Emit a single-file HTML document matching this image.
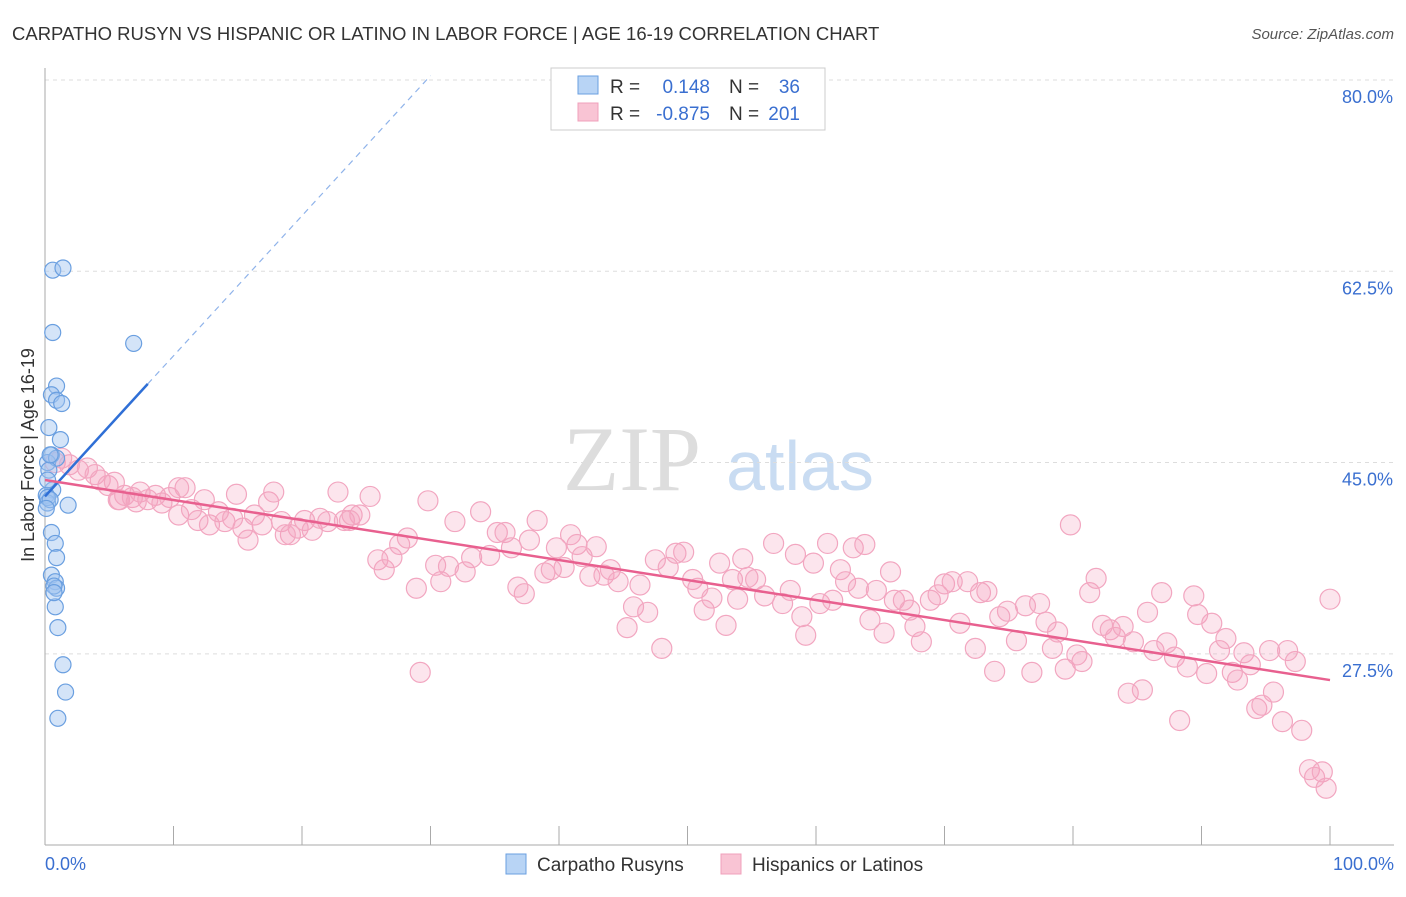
<!DOCTYPE html>
<html><head><meta charset="utf-8"><style>
body{margin:0;background:#fff;font-family:"Liberation Sans",sans-serif}
</style></head><body>
<svg width="1406" height="892" xmlns="http://www.w3.org/2000/svg" font-family="Liberation Sans, sans-serif">
<text x="12" y="40" font-size="18.5" fill="#333">CARPATHO RUSYN VS HISPANIC OR LATINO IN LABOR FORCE | AGE 16-19 CORRELATION CHART</text>
<text x="1394" y="39" font-size="15" fill="#555" font-style="italic" text-anchor="end">Source: ZipAtlas.com</text>
<g><text x="632" y="490" font-size="92" fill="#ddd" font-family="Liberation Serif, serif" text-anchor="middle">ZIP</text><text x="800" y="490" font-size="70" fill="#c9dcf2" text-anchor="middle">atlas</text></g>
<g id="grid"></g><g id="axes"></g><g id="pts"></g><g id="lines"></g>
<text transform="translate(34,455) rotate(-90)" font-size="18" fill="#333" text-anchor="middle">In Labor Force | Age 16-19</text>
<g>
<rect x="551" y="68" width="274" height="62" fill="#fff" stroke="#ccc"/>
<rect x="578" y="76" width="20" height="18" fill="#b8d4f5" stroke="#6a9fe0"/>
<rect x="578" y="103" width="20" height="18" fill="#f9c4d4" stroke="#f0a0bb"/>
<text x="610" y="93" font-size="19" fill="#333">R =</text><text x="710" y="93" font-size="19" fill="#3a6fd0" text-anchor="end">0.148</text>
<text x="729" y="93" font-size="19" fill="#333">N =</text><text x="800" y="93" font-size="19" fill="#3a6fd0" text-anchor="end">36</text>
<text x="610" y="120" font-size="19" fill="#333">R =</text><text x="710" y="120" font-size="19" fill="#3a6fd0" text-anchor="end">-0.875</text>
<text x="729" y="120" font-size="19" fill="#333">N =</text><text x="800" y="120" font-size="19" fill="#3a6fd0" text-anchor="end">201</text>
</g>
<g>
<rect x="506" y="854" width="20" height="20" fill="#b8d4f5" stroke="#6a9fe0"/><text x="537" y="871" font-size="19" fill="#333">Carpatho Rusyns</text>
<rect x="721" y="854" width="20" height="20" fill="#f9c4d4" stroke="#f0a0bb"/><text x="752" y="871" font-size="19" fill="#333">Hispanics or Latinos</text>
</g>
</svg>
<script>
const yTicks=[80,62.5,45,27.5];
const yTickLabels=["80.0%","62.5%","45.0%","27.5%"];
const blueX=[0.6,1.4,0.6,6.9,0.9,0.5,0.9,1.3,0.3,1.2,0.5,0.2,0.9,0.3,0.6,0.1,0.2,1.8,0.5,0.8,0.9,0.5,0.8,0.9,0.7,0.8,1.0,1.4,1.6,1.0,0.2,0.4,0.2,0.4,0.7,0.1];
const blueY=[62.6,62.8,56.9,55.9,52.0,51.2,50.7,50.4,48.2,47.1,45.7,45.0,45.4,44.3,42.5,42.0,41.3,41.1,38.6,37.6,36.3,34.7,34.1,33.5,33.7,31.8,29.9,26.5,24.0,21.6,41.8,45.7,43.4,41.6,33.1,40.8];
const pinkX=[0.8,1.3,1.9,2.6,3.3,3.9,4.3,4.9,5.4,5.8,6.2,6.8,7.4,8.0,8.6,9.1,9.7,10.4,10.9,11.4,11.9,12.4,12.8,13.5,14.0,14.6,14.9,15.4,15.8,16.3,16.9,17.4,17.8,18.4,19.1,19.7,20.2,20.8,21.4,22.0,22.8,23.3,23.9,24.5,25.3,25.9,26.4,27.0,27.6,28.2,28.9,29.8,30.4,30.8,31.4,31.9,32.7,33.2,33.9,34.6,35.2,35.8,36.3,36.8,37.3,37.7,38.3,38.9,39.4,39.8,40.4,40.9,41.4,41.8,42.4,42.9,43.5,44.0,44.6,45.3,45.8,46.3,46.9,47.5,48.0,48.5,49.1,49.7,50.4,50.8,51.3,51.9,52.5,53.0,53.5,53.9,54.3,54.7,55.3,56.0,56.7,57.4,58.0,58.4,58.9,59.2,59.8,60.3,60.9,61.3,61.9,62.3,62.9,63.3,63.8,64.2,64.7,65.3,65.8,66.1,66.8,67.3,67.7,68.2,68.9,69.5,70.0,70.6,71.2,71.8,72.4,72.8,73.3,73.9,74.3,74.9,75.6,76.3,76.8,77.4,77.9,78.4,78.8,79.4,79.8,80.3,80.7,81.3,81.8,82.3,82.9,83.3,83.9,84.3,84.7,85.4,85.8,86.3,86.9,87.3,87.9,88.3,88.9,89.4,89.7,90.4,90.8,91.4,91.9,92.4,92.8,93.3,93.8,94.3,94.7,95.3,95.6,96.3,96.7,97.3,97.8,98.4,98.8,99.4,99.7,100,29.2,10.4,7.1,5.7,18.7,23.7];
const pinkY=[45.0,45.4,44.8,44.3,44.5,43.9,43.4,42.9,43.2,41.6,42.0,41.8,42.3,41.6,42.0,41.3,41.8,40.2,42.7,40.7,39.7,41.6,39.3,40.5,39.6,39.9,42.1,39.0,37.9,40.2,39.3,41.4,42.3,39.6,38.4,39.0,39.7,38.8,39.9,39.6,42.3,39.7,40.2,40.2,41.9,36.1,35.2,36.3,37.5,38.1,33.5,41.5,35.6,34.1,35.5,39.6,35.0,36.3,40.5,36.5,38.6,38.6,37.2,33.6,33.0,37.9,39.7,34.9,35.2,37.2,35.4,38.4,37.5,36.4,34.6,37.3,34.7,35.2,34.1,29.9,31.8,33.8,31.3,36.1,28.0,35.4,36.7,36.8,34.3,33.5,31.5,32.6,35.8,30.1,34.3,32.5,36.2,34.5,34.3,32.8,37.6,32.1,33.3,36.6,30.9,29.2,35.8,32.1,37.6,32.4,35.2,34.1,37.2,33.5,37.5,30.6,33.3,29.4,35.0,32.4,32.4,31.5,30.0,28.6,32.4,32.9,33.9,34.1,30.3,34.1,28.0,33.1,33.2,25.9,30.9,31.4,28.7,31.9,25.8,32.1,30.4,28.0,29.5,26.1,39.3,27.4,26.8,33.1,34.4,30.1,29.7,29.0,30.0,23.9,28.6,24.2,31.3,27.8,33.1,28.5,27.2,21.4,26.3,32.8,31.1,25.7,30.3,27.8,28.9,25.8,25.1,27.6,26.5,22.5,22.8,27.8,24.0,21.3,27.8,26.8,20.5,16.9,16.2,16.7,15.2,32.5,25.8,42.7,41.4,41.6,38.4,39.7];
const blueFit=[[0,41.9],[8,52.2],[30,80.4]];
const pinkFit=[[0,43.4],[100,25.1]];
const NS="http://www.w3.org/2000/svg";
const X=v=>45+v*12.85, Y=v=>80+(80-v)*10.93;
function mk(t,a,p){const e=document.createElementNS(NS,t);for(const k in a)e.setAttribute(k,a[k]);document.getElementById(p).appendChild(e);return e;}
yTicks.forEach((t,i)=>{
 const g=mk('line',{x1:45,x2:1394,y1:Y(t),y2:Y(t),stroke:'#ddd','stroke-dasharray':'4,4'},'grid');
 
 
 const l=mk('text',{x:1393,y:Y(t)+23,'font-size':18,fill:'#3a6fd0','text-anchor':'end'},'grid');
 l.textContent=yTickLabels[i];
 
 
});
const ax=mk('line',{x1:45,x2:45,y1:68,y2:845,stroke:'#aaa'},'axes');


const bx=mk('line',{x1:45,x2:1394,y1:845,y2:845,stroke:'#aaa'},'axes');


for(let i=0;i<=10;i++){const t=mk('line',{x1:X(i*10),x2:X(i*10),y1:826,y2:845,stroke:'#aaa'},'axes');
 
 }
[["0.0%",45,'start'],["100.0%",1394,'end']].forEach(a=>{const t=mk('text',{x:a[1],y:870,'font-size':18,fill:'#3a6fd0','text-anchor':a[2]},'axes');t.textContent=a[0];
 
 });
pinkX.forEach((x,i)=>{const c=mk('circle',{cx:X(x),cy:Y(pinkY[i]),r:10,fill:'rgba(244,160,190,0.28)',stroke:'#f2a6c0','stroke-width':1.2},'pts');
 
 });
blueX.forEach((x,i)=>{const c=mk('circle',{cx:X(x),cy:Y(blueY[i]),r:8,fill:'rgba(160,195,240,0.45)',stroke:'#6a9fe0','stroke-width':1.2},'pts');
 
 });
const b1=mk('line',{x1:X(blueFit[0][0]),y1:Y(blueFit[0][1]),x2:X(blueFit[1][0]),y2:Y(blueFit[1][1]),stroke:'#2f6fd6','stroke-width':2.5},'lines');


const b2=mk('line',{x1:X(blueFit[1][0]),y1:Y(blueFit[1][1]),x2:X(blueFit[2][0]),y2:Y(blueFit[2][1]),stroke:'#8fb3ea','stroke-width':1.2,'stroke-dasharray':'6,5'},'lines');


const p1=mk('line',{x1:X(pinkFit[0][0]),y1:Y(pinkFit[0][1]),x2:X(pinkFit[1][0]),y2:Y(pinkFit[1][1]),stroke:'#e8608f','stroke-width':2.5},'lines');


</script>
</body></html>
